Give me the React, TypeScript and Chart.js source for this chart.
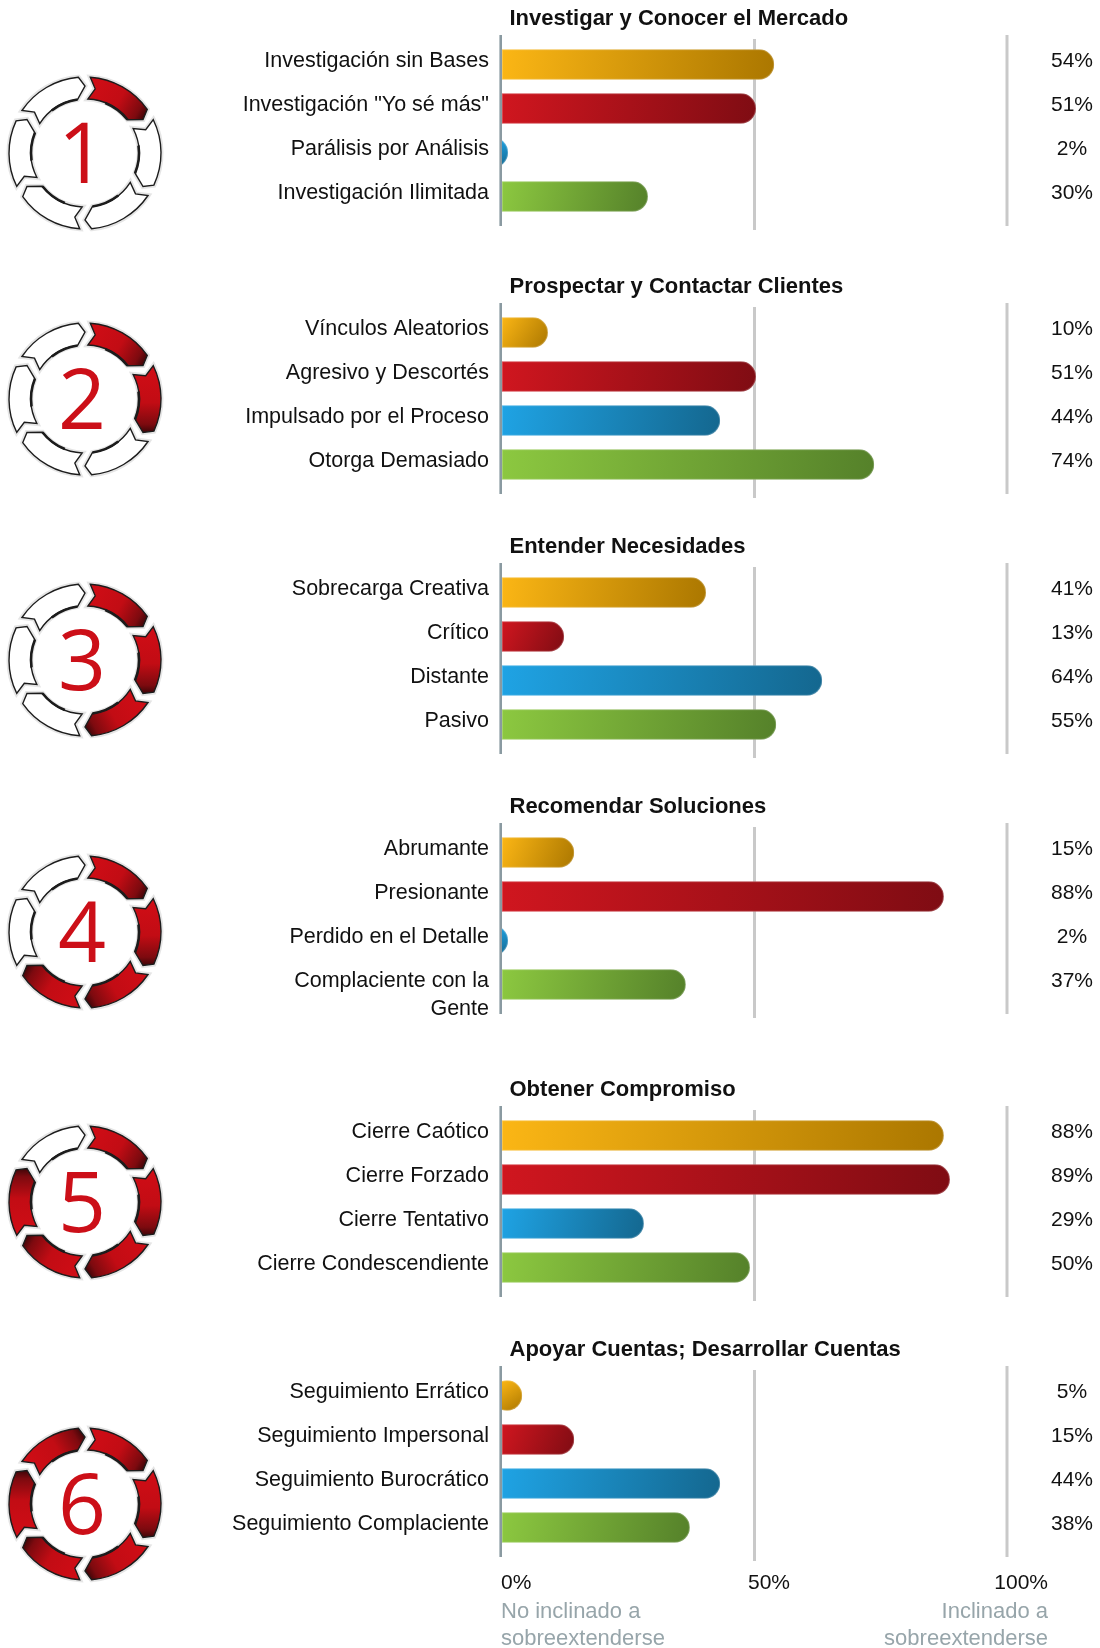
import React, { useEffect, useRef } from "react";
import { Chart, registerables } from "chart.js";

Chart.register(...registerables);

const sectionTitles = [
  "Investigar y Conocer el Mercado",
  "Prospectar y Contactar Clientes",
  "Entender Necesidades",
  "Recomendar Soluciones",
  "Obtener Compromiso",
  "Apoyar Cuentas; Desarrollar Cuentas",
];
const categories1 = ["Investigación sin Bases", 'Investigación "Yo sé más"', "Parálisis por Análisis", "Investigación Ilimitada"];
const categories2 = ["Vínculos Aleatorios", "Agresivo y Descortés", "Impulsado por el Proceso", "Otorga Demasiado"];
const categories3 = ["Sobrecarga Creativa", "Crítico", "Distante", "Pasivo"];
const categories4 = ["Abrumante", "Presionante", "Perdido en el Detalle", ["Complaciente con la", "Gente"]];
const categories5 = ["Cierre Caótico", "Cierre Forzado", "Cierre Tentativo", "Cierre Condescendiente"];
const categories6 = ["Seguimiento Errático", "Seguimiento Impersonal", "Seguimiento Burocrático", "Seguimiento Complaciente"];
// Printed percentages
const percents1 = [54, 51, 2, 30];
const percents2 = [10, 51, 44, 74];
const percents3 = [41, 13, 64, 55];
const percents4 = [15, 88, 2, 37];
const percents5 = [88, 89, 29, 50];
const percents6 = [5, 15, 44, 38];
// Bar lengths, on the 0-100 axis
const values1 = [53.9, 50.3, 1.2, 28.9];
const values2 = [9.1, 50.3, 43.2, 73.7];
const values3 = [40.4, 12.3, 63.4, 54.3];
const values4 = [14.3, 87.5, 1.2, 36.4];
const values5 = [87.5, 88.7, 28.1, 49.1];
const values6 = [4, 14.3, 43.2, 37.2];
const axisTicks = ["0%", "50%", "100%"];
const footerLeft = ["No inclinado a", "sobreextenderse"];
const footerRight = ["Inclinado a", "sobreextenderse"];

const allCategories: any[] = [categories1, categories2, categories3, categories4, categories5, categories6];
const allValues = [values1, values2, values3, values4, values5, values6];
const allPercents = [percents1, percents2, percents3, percents4, percents5, percents6];
const firstBarY = [64.5, 332.5, 592.5, 852.5, 1135.5, 1395.5];
const iconY = [153, 399, 660, 932, 1202, 1504];
const gradients = [["#fbb615", "#ab7700"], ["#d0161f", "#7f0c13"], ["#1fa3e4", "#14678f"], ["#8cc840", "#55812a"]];
const FONT = '"Liberation Sans", Arial, sans-serif';
const ROW = 44;
const W = 1100;
const TOP_PAD = 42.5;

function ringPath(ctx: CanvasRenderingContext2D, cx: number, cy: number, k: number) {
  const R = 76, r = 54;
  const rad = (d: number) => ((d - 90) * Math.PI) / 180;
  const a = k * 60;
  const pt = (d: number, q: number): [number, number] => [cx + q * Math.cos(rad(a + d)), cy + q * Math.sin(rad(a + d))];
  ctx.beginPath();
  ctx.arc(cx, cy, R, rad(a + 4), rad(a + 55));
  ctx.lineTo(...pt(60, 67));
  ctx.lineTo(...pt(52, r));
  ctx.arc(cx, cy, r, rad(a + 52), rad(a + 3), true);
  ctx.lineTo(...pt(9, 65));
  ctx.closePath();
}

function drawIcon(ctx: CanvasRenderingContext2D, cx: number, cy: number, n: number) {
  for (let k = 0; k < 6; k++) {
    const mid = ((k * 60 + 30 - 90) * Math.PI) / 180;
    const tx = Math.cos(mid + Math.PI / 2), ty = Math.sin(mid + Math.PI / 2);
    const mx = cx + 65 * Math.cos(mid), my = cy + 65 * Math.sin(mid);
    ringPath(ctx, cx, cy, k);
    ctx.strokeStyle = "rgba(0,0,0,0.10)";
    ctx.lineWidth = 5;
    ctx.stroke();
    ringPath(ctx, cx, cy, k);
    if (k < n) {
      const g = ctx.createLinearGradient(mx - 36 * tx, my - 36 * ty, mx + 36 * tx, my + 36 * ty);
      g.addColorStop(0, "#d20d16");
      g.addColorStop(0.55, "#c20c14");
      g.addColorStop(0.85, "#7d0a0f");
      g.addColorStop(1, "#2a0406");
      ctx.fillStyle = g;
    } else {
      ctx.fillStyle = "#ffffff";
    }
    ctx.fill();
    ctx.strokeStyle = "#1c1c1c";
    ctx.lineWidth = 1.4;
    ctx.stroke();
    // heavier shadow along the inner side, towards the head of the arrow
    const rad = (d: number) => ((d - 90) * Math.PI) / 180;
    ctx.beginPath();
    ctx.arc(cx, cy, 54, rad(k * 60 + 52), rad(k * 60 + 22), true);
    ctx.lineWidth = 2.6;
    ctx.stroke();
  }
  ctx.fillStyle = "#cc0f18";
  ctx.font = '84px "Open Sans", sans-serif';
  ctx.textAlign = "center";
  ctx.textBaseline = "alphabetic";
  ctx.fillText(String(n), cx - 3, cy + 30);
}

const sectionPlugin = (index: number) => ({
  id: "section" + index,
  beforeDraw(chart: any) {
    const x = chart.scales.x;
    const { top, bottom } = chart.chartArea;
    const ctx = chart.ctx;
    ctx.save();
    ctx.fillStyle = "#c9c9c9";
    ctx.fillRect(x.getPixelForValue(50) - 1.5, top - 3.5, 3, bottom - top + 15);
    ctx.fillRect(x.getPixelForValue(100) - 1.5, top - 7.5, 3, bottom - top + 15);
    ctx.restore();
    ctx.save();
    drawIcon(ctx, 85, iconY[index] - (firstBarY[index] - 22 - TOP_PAD), index + 1);
    ctx.restore();
  },
  afterDatasetUpdate(chart: any) {
    const meta = chart.getDatasetMeta(0);
    meta.data.forEach((el: any, i: number) => {
      el.draw = function (ctx: CanvasRenderingContext2D) {
        const { x, y, base, height } = this.getProps(["x", "y", "base", "height"], true);
        const w = x - base;
        const h = height;
        const g = ctx.createLinearGradient(base, y - h / 2, x, y + h / 2);
        g.addColorStop(0, gradients[i][0]);
        g.addColorStop(1, gradients[i][1]);
        ctx.save();
        ctx.beginPath();
        ctx.rect(base, y - h / 2, w, h);
        ctx.clip();
        ctx.beginPath();
        const bw = Math.max(w, h);
        const rl = bw > h ? 0 : h / 2;
        (ctx as any).roundRect(x - bw, y - h / 2, bw, h, [rl, h / 2, h / 2, rl]);
        ctx.fillStyle = g;
        ctx.fill();
        ctx.strokeStyle = "rgba(255,255,255,0.22)";
        ctx.lineWidth = 2;
        ctx.stroke();
        ctx.restore();
      };
    });
  },
  afterDraw(chart: any) {
    const ctx = chart.ctx;
    const x = chart.scales.x, y = chart.scales.y;
    const { top, bottom } = chart.chartArea;
    ctx.save();
    ctx.fillStyle = "#8a9aa1";
    ctx.fillRect(x.getPixelForValue(0) - 2.6, top - 7.5, 2.6, bottom - top + 15);
    ctx.fillStyle = "#111111";
    ctx.textBaseline = "middle";
    ctx.font = "bold 22px " + FONT;
    ctx.textAlign = "left";
    ctx.fillText(sectionTitles[index], 509.5, top - 23.5);
    ctx.font = "21px " + FONT;
    ctx.textAlign = "center";
    allPercents[index].forEach((v, i) => {
      ctx.fillText(v + "%", 1072, y.getPixelForValue(i) - 3);
    });
    ctx.font = "21.5px " + FONT;
    ctx.textAlign = "right";
    allCategories[index].forEach((lab: any, i: number) => {
      if (Array.isArray(lab)) {
        lab.slice(1).forEach((l: string, j: number) => ctx.fillText(l, 489, y.getPixelForValue(i) - 3 + 27.5 * (j + 1)));
      }
    });
    if (index === 5) {
      const by = bottom + 33.5;
      ctx.font = "21px " + FONT;
      ctx.fillStyle = "#111111";
      ctx.textAlign = "left";
      ctx.fillText(axisTicks[0], 501, by);
      ctx.fillText(axisTicks[1], 748, by);
      ctx.textAlign = "right";
      ctx.fillText(axisTicks[2], 1048, by);
      ctx.font = "22px " + FONT;
      ctx.fillStyle = "#97a5aa";
      ctx.textAlign = "left";
      footerLeft.forEach((t, i) => ctx.fillText(t, 501, by + 28.5 + i * 27.5));
      ctx.textAlign = "right";
      footerRight.forEach((t, i) => ctx.fillText(t, 1048, by + 28.5 + i * 27.5));
    }
    ctx.restore();
  },
});

function Section({ index }: { index: number }) {
  const ref = useRef<HTMLCanvasElement>(null);
  const canvasTop = firstBarY[index] - 22 - TOP_PAD;
  const bottomPad = index === 5 ? 98.5 : 30.5;
  const height = TOP_PAD + ROW * 4 + bottomPad;
  useEffect(() => {
    const chart = new Chart(ref.current as HTMLCanvasElement, {
      type: "bar",
      data: {
        labels: allCategories[index],
        datasets: [{ data: allValues[index], backgroundColor: gradients.map((g) => g[0]), barThickness: 30.4 }],
      },
      options: {
        indexAxis: "y",
        animation: false,
        responsive: false,
        plugins: { legend: { display: false }, tooltip: { enabled: false } },
        layout: { padding: { top: TOP_PAD, bottom: bottomPad, left: 0, right: W - 1007 } },
        scales: {
          x: { min: 0, max: 100, display: false, grid: { display: false } },
          y: {
            position: "left",
            afterFit(s: any) { s.width = 502; },
            grid: { display: false, drawTicks: false },
            border: { display: false },
            ticks: {
              autoSkip: false,
              padding: 13,
              labelOffset: -3,
              color: "#111111",
              font: { family: FONT, size: 21.5 },
              callback(this: any, v: any) {
                const l = allCategories[index][v];
                return Array.isArray(l) ? l[0] : l;
              },
            },
          },
        },
      } as any,
      plugins: [sectionPlugin(index)],
    });
    return () => chart.destroy();
  }, []);
  return <canvas ref={ref} width={W} height={height} style={{ position: "absolute", left: 0, top: canvasTop, width: W, height }} />;
}

export default function App() {
  return (
    <div style={{ position: "absolute", left: 0, top: 0, width: W, height: 1648, overflow: "hidden", background: "#fff" }}>
      {sectionTitles.map((_, i) => (
        <Section key={i} index={i} />
      ))}
    </div>
  );
}
